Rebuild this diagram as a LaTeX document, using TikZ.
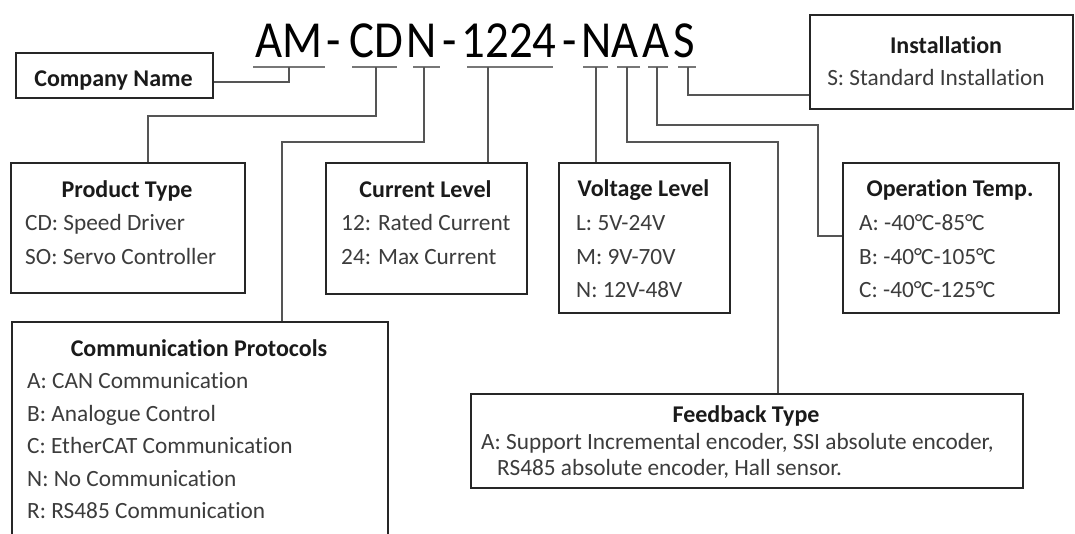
\documentclass[tikz,border=0pt]{standalone}
\usepackage{fontspec}
\setmainfont[Ligatures={NoCommon,NoRare}]{Carlito}
\newfontfamily\codefont[FakeStretch=0.9]{Carlito}
\newcommand{\degC}{{°\kern-0.04em C}}
\definecolor{txtgray}{HTML}{3C3C3C}
\definecolor{ttlblack}{HTML}{1A1A1A}
\definecolor{linegray}{HTML}{555555}
\definecolor{boxline}{HTML}{262626}
\begin{document}
\begin{tikzpicture}[x=1pt,y=-1pt,
  box/.style={draw=boxline, line width=2pt, inner sep=0pt, anchor=north west},
  ttl/.style={font=\fontsize{24}{28}\selectfont\bfseries, text=ttlblack, anchor=base, inner sep=0pt},
  body/.style={font=\fontsize{23.3}{28}\selectfont, text=txtgray, anchor=base west, inner sep=0pt},
  code/.style={font=\codefont\fontsize{52}{56}\selectfont, text=black, anchor=base, inner sep=0pt},
  uline/.style={draw=linegray!80, line width=1.4pt},
  conn/.style={draw=linegray, line width=1.3pt}]
\useasboundingbox (0,0) rectangle (1075,533);
\fill[white] (0,0) rectangle (1075,533);
\clip (0,0) rectangle (1075,533);

% ---- model code ----
\node[code] (tAM) at (289,57) {AM};
\node[code] (th1) at (334,57) {-};
\node[code] (tCD) at (376,57) {CD};
\node[code] (tN1) at (422,57) {N};
\node[code] (th2) at (450,57) {-};
\node[code] (tNum) at (509,57) {1224};
\node[code] (th3) at (570,57) {-};
\node[code] (tN2) at (596.5,57) {N};
\node[code] (tA1) at (625,57) {A};
\node[code] (tA2) at (656,57) {A};
\node[code] (tS) at (684,57) {S};

% underline segments
\draw[uline] (253,67) -- (325,67);
\draw[uline] (352,67) -- (397,67);
\draw[uline] (413,67) -- (440,67);
\draw[uline] (467,67) -- (553,67);
\draw[uline] (583,67) -- (608,67);
\draw[uline] (617,67) -- (640,67);
\draw[uline] (648,67) -- (668,67);
\draw[uline] (678,67) -- (696,67);

\coordinate (u1) at (289,67);
\coordinate (u2) at (376,67);
\coordinate (u3) at (424,67);
\coordinate (u4) at (488,67);
\coordinate (u5) at (596,67);
\coordinate (u6) at (627,67);
\coordinate (u7) at (657,67);
\coordinate (u8) at (688,67);

% ---- boxes ----
\node[box, minimum width=197, minimum height=45] (cn) at (15,52) {};
\node[box, minimum width=234, minimum height=130] (pt) at (10,162) {};
\node[box, minimum width=201, minimum height=131] (cl) at (325,162) {};
\node[box, minimum width=171, minimum height=150] (vl) at (558,162) {};
\node[box, minimum width=216, minimum height=150] (ot) at (842,162) {};
\node[box, minimum width=263, minimum height=94] (in) at (809,14) {};
\node[box, minimum width=376, minimum height=240] (cp) at (11,321) {};
\node[box, minimum width=552, minimum height=94] (fb) at (470,393) {};

% ---- texts ----
\node[ttl] (cnT) at (113.5,86) {Company Name};

\node[ttl] (inT) at (946,53) {Installation};
\node[body, anchor=base] (inL1) at (936,85) {S: Standard Installation};

\node[ttl] (ptT) at (127,197) {Product Type};
\node[body] (ptL1) at (25,230) {CD: Speed Driver};
\node[body] (ptL2) at (25,264) {SO: Servo Controller};

\node[ttl] (clT) at (425.5,197) {Current Level};
\node[body] (clL1) at (341,230) {12: Rated Current};
\node[body] (clL2) at (341,264) {24: Max Current};

\node[ttl] (vlT) at (643.5,196) {Voltage Level};
\node[body] (vlL1) at (576,230) {L: 5V-24V};
\node[body] (vlL2) at (576,264) {M: 9V-70V};
\node[body] (vlL3) at (576,297) {N: 12V-48V};

\node[ttl] (otT) at (950,196) {Operation Temp.};
\node[body] (otL1) at (859,230) {A: -40\degC-85\degC};
\node[body] (otL2) at (859,264) {B: -40\degC-105\degC};
\node[body] (otL3) at (859,297) {C: -40\degC-125\degC};

\node[ttl] (cpT) at (199,356) {Communication Protocols};
\node[body] (cpL1) at (27,388) {A: CAN Communication};
\node[body] (cpL2) at (27,421) {B: Analogue Control};
\node[body] (cpL3) at (27,453) {C: EtherCAT Communication};
\node[body] (cpL4) at (27,486) {N: No Communication};
\node[body] (cpL5) at (27,518) {R: RS485 Communication};

\node[ttl] (fbT) at (746,422) {Feedback Type};
\node[body] (fbL1) at (481,449) {A: Support Incremental encoder, SSI absolute encoder,};
\node[body] (fbL2) at (497,475) {RS485 absolute encoder, Hall sensor.};

% ---- connectors ----
\coordinate (k1) at (289,82);
\draw[conn] (u1) -- (k1) -- (k1 -| cn.east);

\coordinate (k2a) at (376,116);
\coordinate (k2b) at (148,116);
\draw[conn] (u2) -- (k2a) -- (k2b) -- (k2b |- pt.north);

\coordinate (k3a) at (424,142);
\coordinate (k3b) at (282,142);
\draw[conn] (u3) -- (k3a) -- (k3b) -- (k3b |- cp.north);

\draw[conn] (u4) -- (u4 |- cl.north);

\draw[conn] (u5) -- (u5 |- vl.north);

\coordinate (k6a) at (627,142);
\coordinate (k6b) at (778,142);
\draw[conn] (u6) -- (k6a) -- (k6b) -- (k6b |- fb.north);

\coordinate (k7a) at (657,125);
\coordinate (k7b) at (818,125);
\coordinate (k7c) at (818,236);
\draw[conn] (u7) -- (k7a) -- (k7b) -- (k7c) -- (k7c -| ot.west);

\coordinate (k8) at (688,95);
\draw[conn] (u8) -- (k8) -- (k8 -| in.west);
\end{tikzpicture}
\end{document}
